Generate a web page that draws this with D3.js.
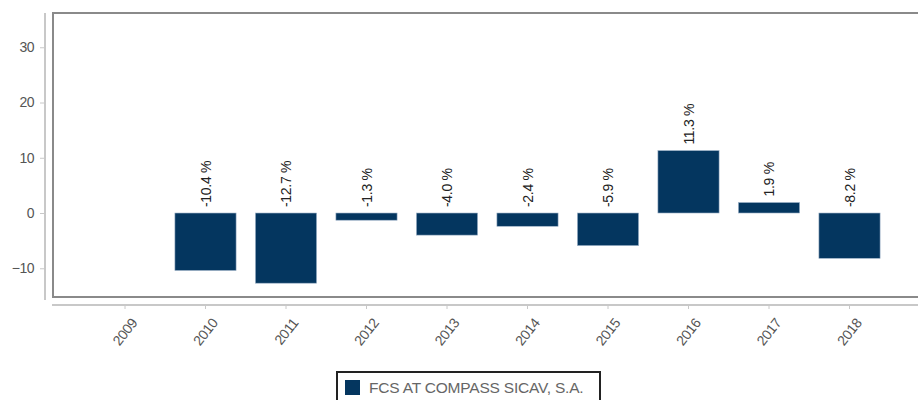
<!DOCTYPE html>
<html>
<head>
<meta charset="utf-8">
<script src="https://cdn.jsdelivr.net/npm/d3@7"></script>
<style>
  body { margin: 0; background: #fff; }
  svg { display: block; font-family: "Liberation Sans", Arial, sans-serif; }
</style>
</head>
<body>
<svg id="chart" width="918" height="400"></svg>
<script>
// data
const years = ["2009", "2010", "2011", "2012", "2013", "2014", "2015", "2016", "2017", "2018"];
const returns = [null, -10.4, -12.7, -1.3, -4.0, -2.4, -5.9, 11.3, 1.9, -8.2];
const yTicks = [-10, 0, 10, 20, 30];
const seriesName = "FCS AT COMPASS SICAV, S.A.";

const barColor = "#04365f";
const svg = d3.select("#chart");

// scales
const x = d3.scaleBand()
  .domain(years)
  .range([84.75, 889.75])
  .paddingInner(0.24)
  .paddingOuter(0.12);

const y = d3.scaleLinear()
  .domain([-15.2, 36.2])
  .range([297, 13]);

// plot frame
svg.append("path")
  .attr("d", "M918,13 H53 V297 H918")
  .attr("fill", "none")
  .attr("stroke", "#8a8a8a")
  .attr("stroke-width", 2);

// y axis
const yAxis = svg.append("g")
  .attr("transform", "translate(45,0)")
  .call(d3.axisLeft(y).tickValues(yTicks).tickSize(5).tickPadding(6).tickSizeOuter(0));
yAxis.select(".domain").attr("stroke", "#c8c8c8").attr("stroke-width", 2)
  .attr("d", `M0,${y.range()[1]}V${y.range()[0] + 3}`);
yAxis.selectAll(".tick line").attr("stroke", "#c8c8c8");
yAxis.selectAll(".tick text")
  .attr("fill", "#555")
  .style("font-size", "14px")
  .style("letter-spacing", "-0.5px");

// x axis
const xAxis = svg.append("g")
  .attr("transform", "translate(0,305)")
  .call(d3.axisBottom(x).tickSize(4).tickSizeOuter(0));
xAxis.select(".domain").attr("stroke", "#c8c8c8").attr("stroke-width", 2)
  .attr("d", "M52,0H918");
xAxis.selectAll(".tick line").attr("stroke", "#c8c8c8");
xAxis.selectAll(".tick text")
  .attr("fill", "#555")
  .style("font-size", "14px")
  .style("letter-spacing", "-0.3px")
  .attr("text-anchor", "end")
  .attr("dy", null)
  .attr("y", 0)
  .attr("transform", "translate(13,18) rotate(-52)");

// bars
const data = years.map((yr, i) => ({ year: yr, value: returns[i] }))
  .filter((d) => d.value !== null);

svg.append("g")
  .selectAll("rect")
  .data(data)
  .join("rect")
  .attr("x", (d) => x(d.year))
  .attr("width", x.bandwidth())
  .attr("y", (d) => y(Math.max(0, d.value)))
  .attr("height", (d) => Math.abs(y(d.value) - y(0)))
  .attr("fill", barColor)
  .attr("stroke", "#9fb3c8")
  .attr("stroke-width", 0.6);

// value labels, rotated
svg.append("g")
  .selectAll("text")
  .data(data)
  .join("text")
  .attr("transform", (d) =>
    `translate(${x(d.year) + x.bandwidth() / 2 + 5},${y(Math.max(0, d.value)) - 6}) rotate(-90)`)
  .attr("text-anchor", "start")
  .attr("fill", "#222")
  .style("font-size", "14px")
  .style("letter-spacing", "-0.3px")
  .text((d) => `${d.value.toFixed(1)} %`);

// legend
const legend = svg.append("g").attr("transform", "translate(337,372)");
legend.append("rect")
  .attr("width", 263).attr("height", 40)
  .attr("fill", "#fff")
  .attr("stroke", "#222")
  .attr("stroke-width", 2);
legend.append("rect")
  .attr("x", 8).attr("y", 8)
  .attr("width", 15).attr("height", 15)
  .attr("fill", barColor);
legend.append("text")
  .attr("x", 32).attr("y", 21)
  .attr("fill", "#666")
  .style("font-size", "15.5px")
  .style("letter-spacing", "-0.2px")
  .text(seriesName);
</script>
</body>
</html>
